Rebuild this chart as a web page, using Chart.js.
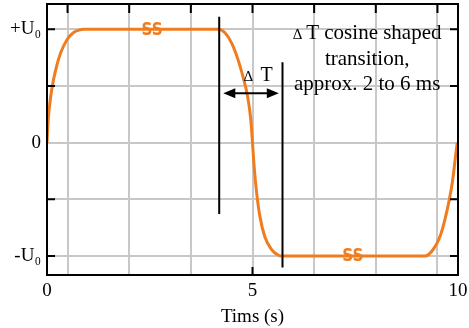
<!DOCTYPE html>
<html>
<head>
<meta charset="utf-8">
<script src="https://cdn.jsdelivr.net/npm/chart.js@4.4.1/dist/chart.umd.min.js"></script>
<style>
  html, body { margin: 0; padding: 0; background: #fff; }
</style>
</head>
<body>
<canvas id="chart" width="469" height="328"></canvas>
<script>
// voltage curve (time in s, voltage in units of U0)
const curveT = [0, 0.03, 0.07, 0.13, 0.21, 0.33, 0.49, 0.64, 0.80, 0.88,
    4.17, 4.33, 4.49, 4.65, 4.77, 4.88, 4.96, 5.0, 5.04, 5.10, 5.18, 5.30, 5.46, 5.62, 5.72,
    9.2, 9.40, 9.56, 9.68, 9.79, 9.87, 9.93, 9.98];
const curveU = [0, 0.20, 0.35, 0.5, 0.64, 0.79, 0.91, 0.97, 0.995, 1,
    1, 0.97, 0.88, 0.73, 0.58, 0.41, 0.20, 0, -0.21, -0.44, -0.65, -0.83, -0.94, -0.99, -1,
    -1, -0.94, -0.83, -0.68, -0.50, -0.33, -0.15, 0];

// the two black marker lines around the transition
const markerT = [4.19, 5.73];
const markerTop = [1.11, 0.71];
const markerBottom = [-0.63, -1.10];

// axes
const xGridValues = [0.5, 2, 3.5, 5, 6.5, 8, 9.5];
const xTickLabels = [0, 5, 10];
const xBottomTicks = [5];
const yTickValues = [-1, -0.5, 0, 0.5, 1];
const yTickNames = ['-U₀', '', '0', '', '+U₀'];
const yInnerTicks = [-1, -0.5, 0.5, 1];

// annotations
const arrowFrom = 4.29, arrowTo = 5.64, arrowLevel = 0.435;
const ssSpots = [[2.56, 1], [7.44, -1]];
const noteLines = ['T cosine shaped', 'transition,', 'approx. 2 to 6 ms'];

const orange = '#ef7d1f';
const serif = "'Liberation Serif', 'Times New Roman', serif";

const curveData = curveT.map((t, i) => ({ x: t, y: curveU[i] }));
const markerSets = markerT.map((t, i) => ({
    data: [{ x: t, y: markerTop[i] }, { x: t, y: markerBottom[i] }],
    borderColor: '#000',
    borderWidth: 2,
    pointRadius: 0,
    tension: 0
}));

// no extra room for the first/last tick labels, the layout padding handles it
const noPad = s => { s.paddingTop = 0; s.paddingBottom = 0; s.paddingLeft = 0; s.paddingRight = 0; };

// frame, inner ticks, arrow and texts
const decorations = {
    id: 'decorations',
    afterDatasetsDraw(chart) {
        const { ctx, chartArea: a, scales: { x, y } } = chart;
        ctx.save();
        ctx.strokeStyle = '#000';
        ctx.lineWidth = 2;
        ctx.strokeRect(a.left, a.top, a.right - a.left, a.bottom - a.top);

        ctx.beginPath();
        xGridValues.forEach(v => {
            const px = x.getPixelForValue(v);
            ctx.moveTo(px, a.top); ctx.lineTo(px, a.top + 9);
        });
        xBottomTicks.forEach(v => {
            const px = x.getPixelForValue(v);
            ctx.moveTo(px, a.bottom); ctx.lineTo(px, a.bottom - 8);
        });
        yInnerTicks.forEach(v => {
            const py = y.getPixelForValue(v);
            ctx.moveTo(a.left, py); ctx.lineTo(a.left + 8, py);
            ctx.moveTo(a.right, py); ctx.lineTo(a.right - 8, py);
        });
        ctx.stroke();

        // double headed arrow
        const x1 = x.getPixelForValue(arrowFrom);
        const x2 = x.getPixelForValue(arrowTo);
        const ay = y.getPixelForValue(arrowLevel);
        ctx.beginPath();
        ctx.moveTo(x1 + 8, ay); ctx.lineTo(x2 - 8, ay);
        ctx.stroke();
        ctx.fillStyle = '#000';
        ctx.beginPath();
        ctx.moveTo(x1, ay); ctx.lineTo(x1 + 12, ay - 5); ctx.lineTo(x1 + 12, ay + 5); ctx.closePath();
        ctx.moveTo(x2, ay); ctx.lineTo(x2 - 12, ay - 5); ctx.lineTo(x2 - 12, ay + 5); ctx.closePath();
        ctx.fill();

        // delta T over the arrow
        ctx.textBaseline = 'alphabetic';
        ctx.textAlign = 'left';
        const dtX = x.getPixelForValue(4.78);
        const dtY = y.getPixelForValue(0.54);
        ctx.font = '15px ' + serif;
        ctx.fillText('Δ', dtX, dtY);
        ctx.font = '20px ' + serif;
        ctx.fillText('T', dtX + 17, dtY);

        // SS labels
        ctx.fillStyle = orange;
        ctx.font = "bold 17px 'DejaVu Sans Condensed', 'Liberation Sans', sans-serif";
        ctx.textAlign = 'center';
        ctx.textBaseline = 'middle';
        ssSpots.forEach(([t, u]) => {
            ctx.fillText('SS', x.getPixelForValue(t), y.getPixelForValue(u) + 1);
        });

        // note text
        ctx.fillStyle = '#000';
        ctx.textBaseline = 'alphabetic';
        const cx = x.getPixelForValue(7.79);
        const lineY = [0.91, 0.685, 0.465].map(v => y.getPixelForValue(v));
        ctx.font = '21px ' + serif;
        const w0 = ctx.measureText(noteLines[0]).width;
        ctx.font = '15px ' + serif;
        const wd = ctx.measureText('Δ ').width;
        const start = cx - (w0 + wd) / 2;
        ctx.textAlign = 'left';
        ctx.fillText('Δ', start, lineY[0]);
        ctx.font = '21px ' + serif;
        ctx.fillText(noteLines[0], start + wd, lineY[0]);
        ctx.textAlign = 'center';
        ctx.fillText(noteLines[1], cx, lineY[1]);
        ctx.fillText(noteLines[2], cx, lineY[2]);
        ctx.restore();
    }
};

new Chart(document.getElementById('chart'), {
    type: 'line',
    data: {
        datasets: [
            ...markerSets,
            {
                data: curveData,
                borderColor: orange,
                borderWidth: 3,
                pointRadius: 0,
                cubicInterpolationMode: 'monotone'
            }
        ]
    },
    options: {
        responsive: false,
        animation: false,
        layout: { padding: { top: 4, right: 11, left: 0, bottom: 0 } },
        plugins: { legend: { display: false }, tooltip: { enabled: false } },
        scales: {
            x: {
                type: 'linear',
                min: 0,
                max: 10,
                afterBuildTicks: s => { s.ticks = [0, ...xGridValues, 10].map(v => ({ value: v })); },
                afterFit: s => { s.height = 53; noPad(s); },
                border: { display: false },
                grid: {
                    drawTicks: false,
                    lineWidth: 2,
                    color: c => (c.tick && (c.tick.value === 0 || c.tick.value === 10)) ? 'rgba(0,0,0,0)' : '#c8c8c8'
                },
                ticks: {
                    padding: 5,
                    maxRotation: 0,
                    autoSkip: false,
                    color: '#000',
                    font: { family: serif, size: 19 },
                    callback: v => xTickLabels.includes(v) ? String(v) : ''
                },
                title: {
                    display: true,
                    text: 'Tims (s)',
                    color: '#000',
                    font: { family: serif, size: 19 },
                    padding: { top: 0, bottom: 0 }
                }
            },
            y: {
                min: -1.167,
                max: 1.223,
                afterBuildTicks: s => { s.ticks = yTickValues.map(v => ({ value: v })); },
                afterFit: s => { s.width = 47; noPad(s); },
                border: { display: false },
                grid: { drawTicks: false, lineWidth: 2, color: '#c8c8c8' },
                ticks: {
                    padding: 6,
                    autoSkip: false,
                    color: '#000',
                    font: { family: serif, size: 19 },
                    callback: v => yTickNames[yTickValues.indexOf(v)]
                }
            }
        }
    },
    plugins: [decorations]
});
</script>
</body>
</html>
